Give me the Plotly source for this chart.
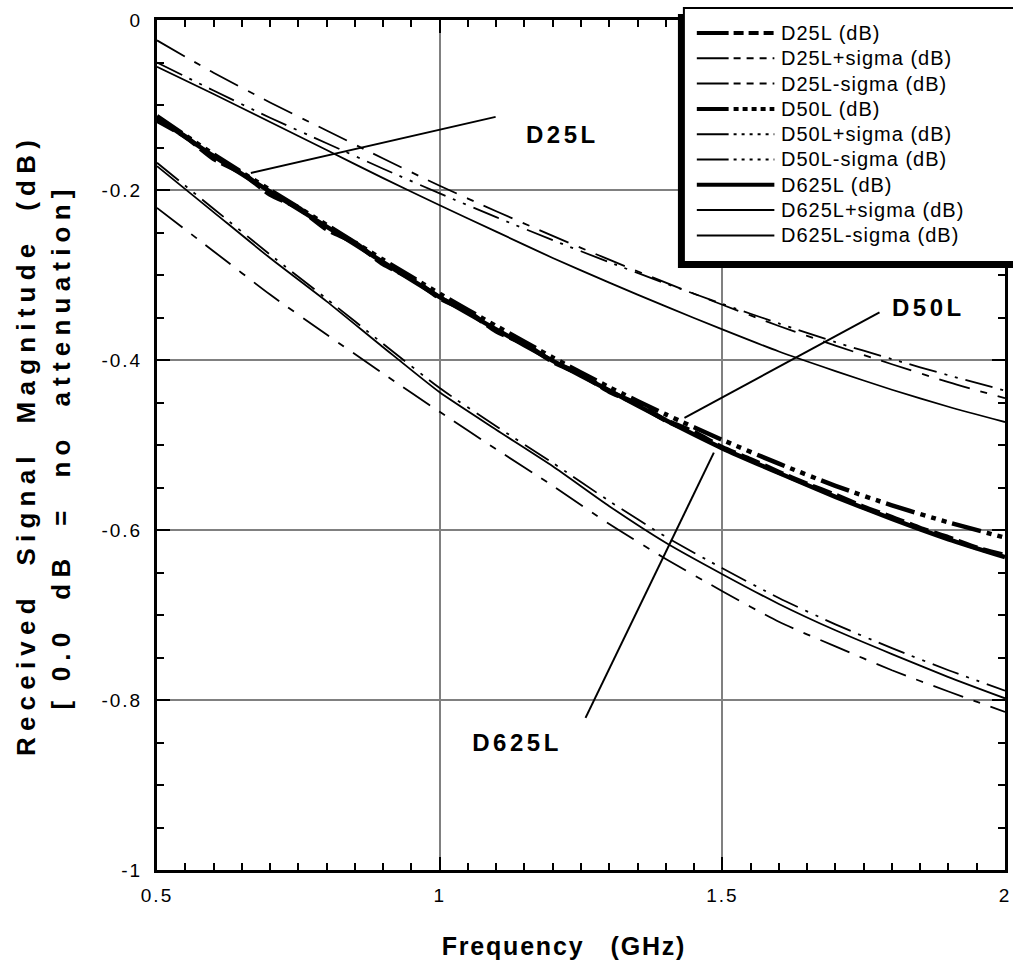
import json
import plotly.graph_objects as go

# ---------------- data ----------------
freq = [0.5, 0.6, 0.7, 0.8, 0.9, 1.0, 1.1, 1.2, 1.3, 1.4, 1.5, 1.6, 1.7, 1.8, 1.9, 2.0]
freq_fine = [0.50, 0.55, 0.60, 0.65, 0.70, 0.75, 0.80, 0.85, 0.90, 0.95, 1.00,
             1.05, 1.10, 1.15, 1.20, 1.25, 1.30, 1.35, 1.40, 1.45, 1.50,
             1.55, 1.60, 1.65, 1.70, 1.75, 1.80, 1.85, 1.90, 1.95, 2.00]

d25l = [-0.118, -0.137, -0.163, -0.180, -0.205, -0.221, -0.246, -0.262, -0.287, -0.304, -0.327,
        -0.343, -0.366, -0.381, -0.402, -0.417, -0.437, -0.452, -0.471, -0.485, -0.503,
        -0.517, -0.532, -0.546, -0.559, -0.573, -0.585, -0.598, -0.609, -0.621, -0.630]
d25l_plus = [-0.024, -0.062, -0.097, -0.130, -0.163, -0.195, -0.225, -0.254,
             -0.282, -0.309, -0.335, -0.360, -0.383, -0.405, -0.426, -0.445]
d25l_minus = [-0.221, -0.272, -0.323, -0.370, -0.416, -0.461, -0.505, -0.548,
              -0.593, -0.634, -0.672, -0.708, -0.737, -0.765, -0.790, -0.814]

d50l = [-0.113, -0.158, -0.200, -0.241, -0.282, -0.322, -0.360, -0.397,
        -0.432, -0.464, -0.494, -0.522, -0.548, -0.571, -0.591, -0.609]
d50l_plus = [-0.050, -0.083, -0.115, -0.145, -0.175, -0.204, -0.232, -0.259,
             -0.285, -0.310, -0.334, -0.357, -0.379, -0.399, -0.418, -0.436]
d50l_minus = [-0.168, -0.222, -0.276, -0.328, -0.381, -0.433, -0.478, -0.521,
              -0.566, -0.608, -0.645, -0.680, -0.711, -0.739, -0.765, -0.789]

d625l = [-0.115, -0.160, -0.202, -0.243, -0.285, -0.326, -0.364, -0.401,
         -0.436, -0.471, -0.504, -0.533, -0.561, -0.587, -0.611, -0.632]
d625l_plus = [-0.055, -0.087, -0.120, -0.153, -0.186, -0.218, -0.249, -0.280,
              -0.309, -0.337, -0.364, -0.390, -0.413, -0.435, -0.455, -0.473]
d625l_minus = [-0.172, -0.226, -0.280, -0.331, -0.385, -0.438, -0.482, -0.525,
               -0.572, -0.615, -0.652, -0.687, -0.718, -0.746, -0.773, -0.798]

x_tick_vals = [0.5, 1.0, 1.5, 2.0]
x_tick_text = ["0.5", "1", "1.5", "2"]
y_tick_vals = [0, -0.2, -0.4, -0.6, -0.8, -1.0]
y_tick_text = ["0", "-0.2", "-0.4", "-0.6", "-0.8", "-1"]

series_names = ["D25L (dB)", "D25L+sigma (dB)", "D25L-sigma (dB)",
                "D50L (dB)", "D50L+sigma (dB)", "D50L-sigma (dB)",
                "D625L (dB)", "D625L+sigma (dB)", "D625L-sigma (dB)"]

# ---------------- styling ----------------
FONT = "Arial, Liberation Sans, sans-serif"
W, H = 1013, 966
L, R, T, B = 157, 1010, 20, 870  # plot area in pixels

DASH_25_MAIN = "20px,6px"
DASH_25_SIG = "32px,11px,7px,11px"
DASH_50_MAIN = "30px,6px,5px,6px,5px,6px,5px,6px"
DASH_50_SIG = "28px,8px,3px,8px,3px,8px"

styles = [
    (freq_fine, d25l, 5.0, DASH_25_MAIN),
    (freq, d25l_plus, 1.8, DASH_25_SIG),
    (freq, d25l_minus, 1.8, DASH_25_SIG),
    (freq, d50l, 4.5, DASH_50_MAIN),
    (freq, d50l_plus, 1.8, DASH_50_SIG),
    (freq, d50l_minus, 1.8, DASH_50_SIG),
    (freq, d625l, 4.5, "solid"),
    (freq, d625l_plus, 1.8, "solid"),
    (freq, d625l_minus, 1.8, "solid"),
]

fig = go.Figure()
draw_order = [1, 2, 4, 5, 7, 8, 0, 3, 6]
for i in draw_order:
    xs, ys, w, dash = styles[i]
    fig.add_trace(go.Scatter(x=xs, y=ys, mode="lines", name=series_names[i],
                             line=dict(color="black", width=w, dash=dash, shape="spline", smoothing=0.6),
                             showlegend=False))


def px(xp):
    return (xp - L) / (R - L)


def py(yp):
    return (B - yp) / (B - T)


shapes = []
annotations = []
spacing = []  # letter spacing (px) for each annotation, applied after render

# leader lines for the curve labels (data coordinates)
leaders = [((0.666, -0.180), (1.099, -0.114)),
           ((1.433, -0.468), (1.778, -0.344)),
           ((1.485, -0.509), (1.258, -0.821))]
for (x0, y0), (x1, y1) in leaders:
    shapes.append(dict(type="line", xref="x", yref="y", x0=x0, y0=y0, x1=x1, y1=y1,
                       line=dict(color="black", width=2)))

labels = [("D25L", 1.218, -0.135), ("D50L", 1.865, -0.338), ("D625L", 1.137, -0.850)]
for txt, xx, yy in labels:
    annotations.append(dict(text="<b>" + txt + "</b>", x=xx, y=yy, xref="x", yref="y",
                            showarrow=False, font=dict(family=FONT, size=24, color="black"),
                            xanchor="center", yanchor="middle"))
    spacing.append(3.5)

# custom legend box with shadow
shapes.append(dict(type="rect", xref="paper", yref="paper", x0=px(681), x1=px(1030),
                   y0=py(268), y1=py(14), fillcolor="black", line=dict(width=0), layer="above"))
shapes.append(dict(type="rect", xref="paper", yref="paper", x0=px(687), x1=px(1030),
                   y0=py(262), y1=py(8), fillcolor="white", line=dict(color="black", width=2), layer="above"))

legend_patterns = [
    (4.0, "10px,5px"), (2.0, "7px,6px"), (2.0, "7px,6px"),
    (4.0, "5px,4px"), (2.0, "3px,5px"), (2.0, "3px,5px"),
    (4.0, None), (2.0, None), (2.0, None),
]
for k, name in enumerate(series_names):
    yc = 33 + 25.3 * k
    w, dash = legend_patterns[k]
    if dash is None:
        shapes.append(dict(type="line", xref="paper", yref="paper", x0=px(700), x1=px(778),
                           y0=py(yc), y1=py(yc), line=dict(color="black", width=w)))
    else:
        shapes.append(dict(type="line", xref="paper", yref="paper", x0=px(700), x1=px(732),
                           y0=py(yc), y1=py(yc), line=dict(color="black", width=w)))
        shapes.append(dict(type="line", xref="paper", yref="paper", x0=px(737), x1=px(778),
                           y0=py(yc), y1=py(yc), line=dict(color="black", width=w, dash=dash)))
    annotations.append(dict(text=name, x=px(783), y=py(yc), xref="paper", yref="paper",
                            showarrow=False, xanchor="left", yanchor="middle", align="left",
                            font=dict(family=FONT, size=20, color="black")))
    spacing.append(1.0)

# axis titles
annotations.append(dict(text="<b>Received  Signal  Magnitude  (dB)</b>", x=px(25), y=py(445),
                        xref="paper", yref="paper", showarrow=False, textangle=-90,
                        xanchor="center", yanchor="middle",
                        font=dict(family=FONT, size=26, color="black")))
spacing.append(6.2)
annotations.append(dict(text="<b>[ 0.0  dB  =  no  attenuation]</b>", x=px(60), y=py(447),
                        xref="paper", yref="paper", showarrow=False, textangle=-90,
                        xanchor="center", yanchor="middle",
                        font=dict(family=FONT, size=26, color="black")))
spacing.append(6.2)
annotations.append(dict(text="<b>Frequency   (GHz)</b>", x=px(566), y=py(946),
                        xref="paper", yref="paper", showarrow=False,
                        xanchor="center", yanchor="middle",
                        font=dict(family=FONT, size=25, color="black")))
spacing.append(1.8)

axis_common = dict(showline=True, linecolor="black", linewidth=3, mirror="ticks",
                   ticks="inside", ticklen=13, tickwidth=2, tickcolor="black",
                   showgrid=True, gridcolor="#808080", gridwidth=2, zeroline=False,
                   tickfont=dict(family=FONT, size=19, color="black"))

fig.update_layout(
    width=W, height=H,
    margin=dict(l=L, r=W - R, t=T, b=H - B, pad=0),
    paper_bgcolor="white", plot_bgcolor="white",
    showlegend=False,
    shapes=shapes, annotations=annotations,
    xaxis=dict(range=[0.5, 2.0], tickmode="array", tickvals=x_tick_vals, ticktext=x_tick_text,
               minor=dict(tickmode="linear", tick0=0.5, dtick=0.05, ticks="inside", ticklen=7,
                          tickwidth=2, tickcolor="black", showgrid=False),
               ticklabelstandoff=6, **axis_common),
    yaxis=dict(range=[-1.0, 0.0], tickmode="array", tickvals=y_tick_vals, ticktext=y_tick_text,
               minor=dict(tickmode="linear", tick0=0, dtick=0.05, ticks="inside", ticklen=7,
                          tickwidth=2, tickcolor="black", showgrid=False),
               ticklabelstandoff=8, **axis_common),
)

post = """
document.body.style.margin = '0px';
(function () {
  var SP = %s;
  function apply() {
    var gd = document.getElementById('{plot_id}');
    if (!gd) return;
    gd.querySelectorAll('g.annotation').forEach(function (g) {
      var i = parseInt(g.getAttribute('data-index'), 10);
      var t = g.querySelector('text.annotation-text');
      if (t && SP[i] !== undefined) { t.style.letterSpacing = SP[i] + 'px'; }
    });
    gd.querySelectorAll('g.xtick text, g.ytick text').forEach(function (t) {
      t.style.letterSpacing = '2px';
    });
  }
  apply();
  setTimeout(apply, 50);
  setTimeout(apply, 300);
  var gd0 = document.getElementById('{plot_id}');
  if (gd0 && gd0.on) { gd0.on('plotly_afterplot', apply); }
})();
""" % json.dumps(spacing)

fig.write_html("out.html", post_script=post, config={"displayModeBar": False})
